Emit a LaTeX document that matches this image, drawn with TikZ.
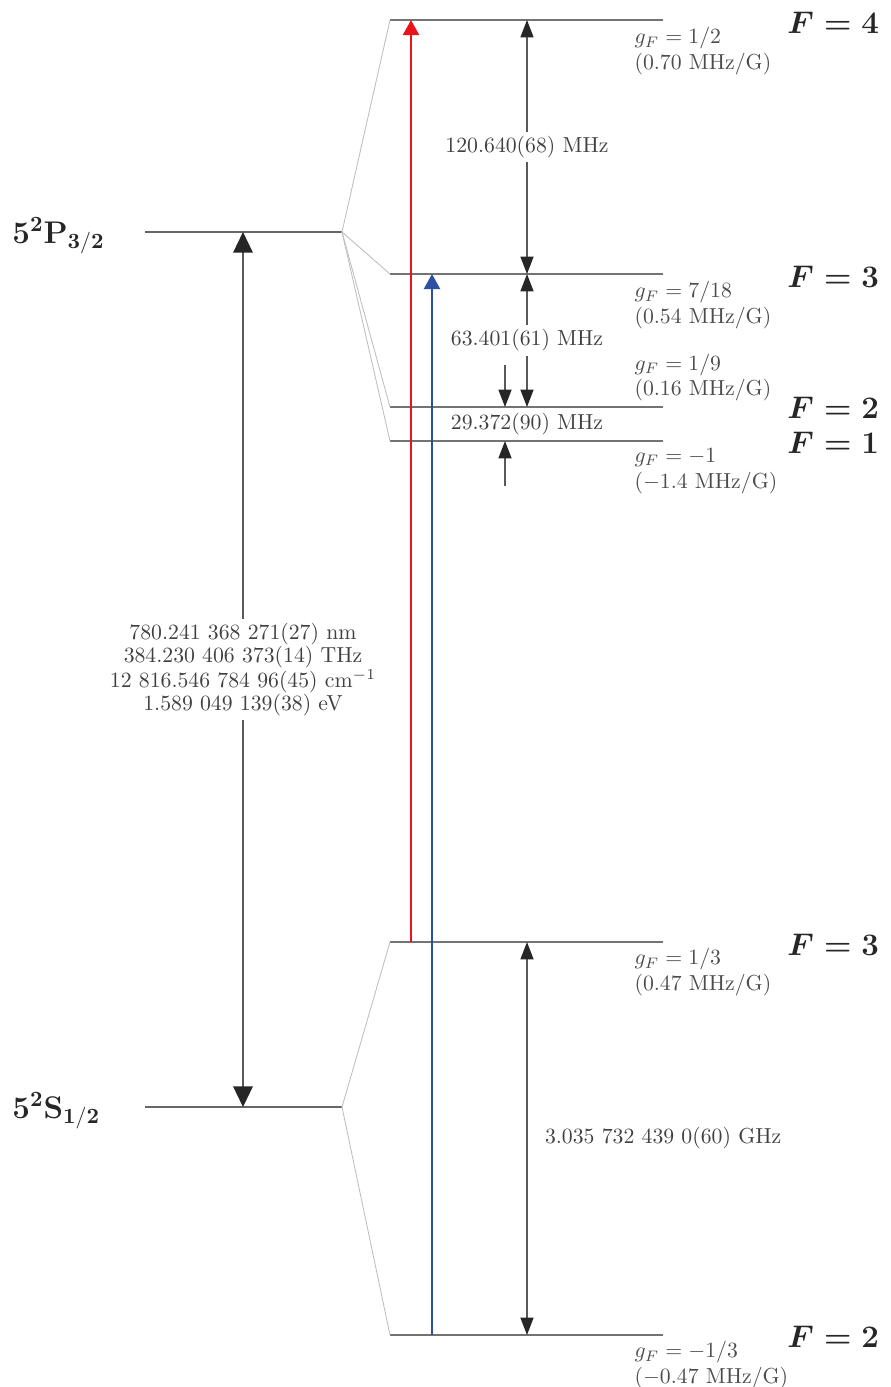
\documentclass[tikz,border=0pt]{standalone}
\usepackage{amsmath}
\usepackage{amssymb}
\usetikzlibrary{arrows.meta,positioning}

\definecolor{pumpred}{RGB}{232,20,26}
\definecolor{repblue}{RGB}{43,81,160}

\begin{document}
\begin{tikzpicture}[x=0.46pt, y=-0.46pt,
    fine/.style={draw=black!60, line width=0.7pt},
    hfs/.style={draw=black!55, line width=0.7pt},
    fan/.style={draw=black!25, line width=0.4pt},
    gap/.style={draw=black!65, line width=0.6pt, {Triangle[length=8pt,width=6pt,color=black!85]}-{Triangle[length=8pt,width=6pt,color=black!85]}},
    onlydown/.style={draw=black!65, line width=0.6pt, -{Triangle[length=8pt,width=6pt,color=black!85]}},
    bigarrow/.style={draw=black!65, line width=0.7pt, {Triangle[length=9.5pt,width=9pt,color=black!85]}-{Triangle[length=9.5pt,width=9pt,color=black!85]}},
    laser/.style={line width=0.9pt, -{Triangle[length=7pt,width=7.5pt]}},
    lbl/.style={text=black!75, font=\normalsize, inner sep=2pt},
    gfac/.style={text=black!70, align=left, inner sep=1pt, font=\fontsize{10}{11.8}\selectfont},
    Flbl/.style={text=black!85, font=\fontsize{14.5}{17}\selectfont, anchor=west, inner sep=0pt},
    term/.style={text=black!85, font=\Large, anchor=west, inner sep=0pt}
  ]
  \useasboundingbox (0,0) rectangle (890,1387);

  % fine structure levels
  \coordinate (P) at (145,232);
  \coordinate (Pe) at (342,232);
  \coordinate (S) at (145,1107);
  \coordinate (Se) at (342,1107);
  \draw[fine] (P) -- (Pe);
  \draw[fine] (S) -- (Se);
  \node[term] (Plbl) at (12,236) {$\mathbf{5^2P_{3/2}}$};
  \node[term] (Slbl) at (12,1111) {$\mathbf{5^2S_{1/2}}$};

  % hyperfine levels
  \foreach \name/\y in {e4/20, e3/274, e2/407, e1/441, g3/942, g2/1335} {
    \coordinate (\name) at (390,\y);
    \coordinate (\name r) at (663,\y);
    \draw[hfs] (\name) -- (\name r);
  }
  \foreach \name in {e4,e3,e2,e1} \draw[fan] (Pe) -- (\name);
  \foreach \name in {g3,g2} \draw[fan] (Se) -- (\name);

  \node[Flbl] (Fe4) at (787,23) {$\boldsymbol{F = 4}$};
  \node[Flbl] (Fe3) at (787,277) {$\boldsymbol{F = 3}$};
  \node[Flbl] (Fe2) at (787,408) {$\boldsymbol{F = 2}$};
  \node[Flbl] (Fe1) at (787,443) {$\boldsymbol{F = 1}$};
  \node[Flbl] (Fg3) at (787,945) {$\boldsymbol{F = 3}$};
  \node[Flbl] (Fg2) at (787,1337) {$\boldsymbol{F = 2}$};

  \node[gfac, anchor=north west] (gf4) at (632,25) {$g_F=1/2$\\(0.70 MHz/G)};
  \node[gfac, anchor=north west] (gf3) at (632,279) {$g_F=7/18$\\(0.54 MHz/G)};
  \node[gfac, anchor=south west] (gf2) at (632,404) {$g_F=1/9$\\(0.16 MHz/G)};
  \node[gfac, anchor=north west] (gf1) at (632,446) {$g_F=-1$\\($-$1.4 MHz/G)};
  \node[gfac, anchor=north west] (gg3) at (632,946) {$g_F=1/3$\\(0.47 MHz/G)};
  \node[gfac, anchor=north west] (gg2) at (632,1339) {$g_F=-1/3$\\($-$0.47 MHz/G)};

  % splittings
  \coordinate (colA) at (527,0);
  \coordinate (colB) at (243,0);
  \draw[gap] (e4 -| colA) -- node[lbl, fill=white] (split43) {120.640(68) MHz} (e3 -| colA);
  \draw[gap] (e3 -| colA) -- node[lbl, fill=white] (split32) {63.401(61) MHz} (e2 -| colA);
  \node[lbl] (split21) at (527,424) {29.372(90) MHz};
  \coordinate (dn) at (505,365);
  \coordinate (up) at (505,486);
  \draw[onlydown] (dn) -- (e2 -| dn);
  \draw[onlydown] (up) -- (e1 -| up);
  \draw[gap] (g3 -| colA) -- node[lbl, right=6pt] (splitg) {3.035 732 439 0(60) GHz} (g2 -| colA);

  \draw[bigarrow] (P -| colB) -- node[lbl, fill=white, align=center, font=\fontsize{10}{10.6}\selectfont] (dline)
    {780.241 368 271(27) nm\\384.230 406 373(14) THz\\12 816.546 784 96(45) cm$^{-1}$\\1.589 049 139(38) eV} (S -| colB);

  % lasers
  \coordinate (cool) at (411,0);
  \coordinate (repump) at (432,0);
  \draw[laser, pumpred] (g3 -| cool) -- (e4 -| cool);
  \draw[laser, repblue] (g2 -| repump) -- (e3 -| repump);
\end{tikzpicture}
\end{document}
